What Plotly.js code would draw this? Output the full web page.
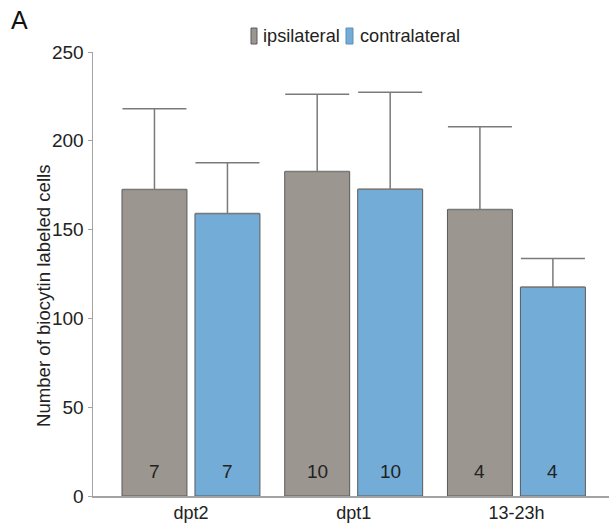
<!DOCTYPE html>
<html>
<head>
<meta charset="utf-8">
<script src="https://cdn.plot.ly/plotly-3.0.1.min.js"></script>
<style>html,body{margin:0;padding:0;background:#fff;}#chart{width:609px;height:525px;}</style>
</head>
<body>
<div id="chart"></div>
<script>
// ---- data ----
const categories = ["dpt2", "dpt1", "13-23h"];
const ipsiMean = [172.6, 182.7, 161.3];
const ipsiErrTop = [218.0, 226.2, 207.9];
const contraMean = [159.0, 172.7, 117.6];
const contraErrTop = [187.6, 227.4, 133.7];
const ipsiN = ["7", "10", "4"];
const contraN = ["7", "10", "4"];
const seriesNames = ["ipsilateral", "contralateral"];
const yTitle = "Number of biocytin labeled cells";
const panelLabel = "A";

// ---- style ----
const FONT = "Liberation Sans, Arial, Helvetica, sans-serif";
const GRAY = "#9c9691";
const BLUE = "#72acd7";
const EDGE = "#5a5a5a";
const AXIS = "#a3a3a3";
const TXT = "#222222";

const ipsiPlus = ipsiMean.map((m, i) => ipsiErrTop[i] - m);
const contraPlus = contraMean.map((m, i) => contraErrTop[i] - m);

function barTrace(name, y, plus, color) {
  return {
    type: "bar", name: name, x: categories, y: y,
    marker: {color: color, line: {color: EDGE, width: 1}},
    error_y: {type: "data", symmetric: false, array: plus,
              arrayminus: y.map(() => 0), color: "#7a7a7a",
              thickness: 1.5, width: 32},
    hoverinfo: "skip"
  };
}

const data = [
  barTrace(seriesNames[0], ipsiMean, ipsiPlus, GRAY),
  barTrace(seriesNames[1], contraMean, contraPlus, BLUE)
];

const annotations = [];
categories.forEach((c, i) => {
  annotations.push({x: c, y: 14, xref: "x", yref: "y", text: ipsiN[i], showarrow: false,
    xshift: -36.5, font: {family: FONT, size: 19, color: TXT}});
  annotations.push({x: c, y: 14, xref: "x", yref: "y", text: contraN[i], showarrow: false,
    xshift: 36.5, font: {family: FONT, size: 19, color: TXT}});
});
// y-axis title
annotations.push({xref: "paper", yref: "paper", x: -0.0969, y: 0.4527, text: yTitle,
  textangle: -90, showarrow: false, xanchor: "center", yanchor: "middle",
  font: {family: FONT, size: 18.6, color: TXT}});
// panel label
annotations.push({xref: "paper", yref: "paper", x: -0.1415, y: 1.073, text: panelLabel,
  showarrow: false, xanchor: "center", yanchor: "middle",
  font: {family: FONT, size: 25, color: "#111"}});
// legend texts
annotations.push({xref: "paper", yref: "paper", x: 0.3265, y: 1.036, text: seriesNames[0],
  showarrow: false, xanchor: "left", yanchor: "middle",
  font: {family: FONT, size: 18.2, color: TXT}});
annotations.push({xref: "paper", yref: "paper", x: 0.5135, y: 1.036, text: seriesNames[1],
  showarrow: false, xanchor: "left", yanchor: "middle",
  font: {family: FONT, size: 18.2, color: TXT}});

const shapes = [
  {type: "rect", xref: "paper", yref: "paper", x0: 0.3062, x1: 0.3178, y0: 1.018, y1: 1.054,
   fillcolor: GRAY, line: {color: EDGE, width: 1}},
  {type: "rect", xref: "paper", yref: "paper", x0: 0.4903, x1: 0.5039, y0: 1.018, y1: 1.054,
   fillcolor: BLUE, line: {color: "#5f8fb5", width: 1}}
];

const layout = {
  width: 609, height: 525,
  margin: {l: 93, r: 0, t: 52, b: 29, pad: 0},
  paper_bgcolor: "#ffffff", plot_bgcolor: "#ffffff",
  font: {family: FONT, color: TXT, size: 18},
  showlegend: false,
  barmode: "group", bargap: 0.103, bargroupgap: 0.11,
  xaxis: {type: "category", range: [-0.602, 2.569], showline: true, linecolor: AXIS,
          linewidth: 1.5, ticks: "", showgrid: false, zeroline: false,
          tickfont: {family: FONT, size: 18, color: TXT}, fixedrange: true},
  yaxis: {range: [0, 250], dtick: 50, tick0: 0, showline: true, linecolor: AXIS,
          linewidth: 1.5, ticks: "outside", ticklen: 4, tickcolor: AXIS, tickwidth: 1,
          showgrid: false, zeroline: false,
          tickfont: {family: FONT, size: 19, color: TXT}, fixedrange: true},
  annotations: annotations,
  shapes: shapes
};

Plotly.newPlot("chart", data, layout, {displayModeBar: false, staticPlot: true});
</script>
</body>
</html>
